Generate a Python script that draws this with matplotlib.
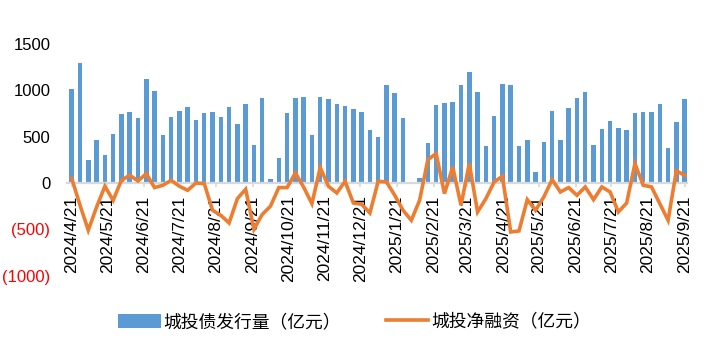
import numpy as np
import pandas as pd
import matplotlib
matplotlib.use('Agg')
import matplotlib.pyplot as plt
from matplotlib.patches import Patch
from matplotlib.lines import Line2D

# Data (weekly, 2024/4/21 - 2025/9/21)
dates = pd.date_range('2024-04-21', '2025-09-21', freq='7D')
issue = [1010, 1290, 248, 464, 299, 526, 742, 767, 698, 1120, 990, 515, 709, 774, 817,
         677, 752, 763, 709, 824, 641, 850, 414, 922, 40, 274, 752, 922, 932, 522,
         932, 904, 850, 835, 796, 763, 576, 500, 1055, 976, 706, 0, 50, 436, 839,
         860, 871, 1055, 1202, 983, 403, 727, 1066, 1055, 403, 461, 122, 439, 781, 461,
         806, 922, 986, 414, 580, 666, 590, 569, 752, 763, 763, 850, 382, 655, 904]
net = [50, -240, -510, -260, -36, -187, 29, 83, 22, 100,
       -50, -25, 29, -36, -79, 0, -7, -295, -349, -432,
       -169, -68, -500, -340, -250, -50, -50, 108, -45, -223,
       166, -36, -108, 18, -216, -230, -324, 18, 11, -133,
       -295, -403, -187, 252, 317, -115, 173, -241, 209, -313,
       -170, 11, 72, -529, -518, -180, -295, -151, 36, -97,
       -50, -133, -43, -180, -43, -97, -313, -216, 209, -25,
       -43, -223, -403, 130, 83]
tick_dates = pd.date_range('2024-04-01', '2025-09-01', freq='MS') + pd.Timedelta(days=20)
tick_labels = ['%d/%d/%d' % (d.year, d.month, d.day) for d in tick_dates]
yticks = [-1000, -500, 0, 500, 1000, 1500]
ytick_labels = ['(1000)', '(500)', '0', '500', '1000', '1500']

blue = '#5B9BD5'
orange = '#ED7D31'
grey = '#D9D9D9'

plt.rcParams['font.family'] = ['Liberation Sans', 'DejaVu Sans']

fig = plt.figure(figsize=(7.09, 3.55), dpi=100)
ax = fig.add_axes([67/709, 1-275.6/355, 620/709, (275.6-44)/355])

ax.bar(dates, issue, width=3.8, color=blue, zorder=2)
ax.plot(dates, net, color=orange, linewidth=2.6, solid_joinstyle='miter', zorder=4)

ax.set_ylim(-1000, 1500)
ax.set_xlim(dates[0] - pd.Timedelta(days=4), dates[-1] + pd.Timedelta(days=2))

for s in ['top', 'right', 'left']:
    ax.spines[s].set_visible(False)
ax.spines['bottom'].set_position(('data', 0))
ax.spines['bottom'].set_color(grey)
ax.spines['bottom'].set_linewidth(1.6)
ax.spines['bottom'].set_zorder(3)

ax.set_xticks(tick_dates)
ax.set_xticklabels(tick_labels, rotation=90, fontsize=12.5)
ax.tick_params(axis='x', direction='out', length=3, width=1.2, color=grey, pad=6)
ax.set_yticks(yticks)
ax.set_yticklabels(ytick_labels, fontsize=12)
ax.tick_params(axis='y', length=0, pad=12)
for t, v in zip(ax.get_yticklabels(), yticks):
    if v < 0:
        t.set_color('#FF0000')

handles = [Patch(facecolor=blue, edgecolor='none'),
           Line2D([0], [0], color=orange, linewidth=2.6)]
fig.legend(handles, ['城投债发行量（亿元）', '城投净融资（亿元）'],
           loc='center', bbox_to_anchor=(0.5, 0.093), ncol=2, frameon=False,
           prop={'family': ['Noto Sans CJK SC', 'DejaVu Sans'], 'size': 12.8},
           handlelength=2.4, handleheight=0.8, handletextpad=0.15, columnspacing=2.5)

fig.savefig('out.png', dpi=100)
